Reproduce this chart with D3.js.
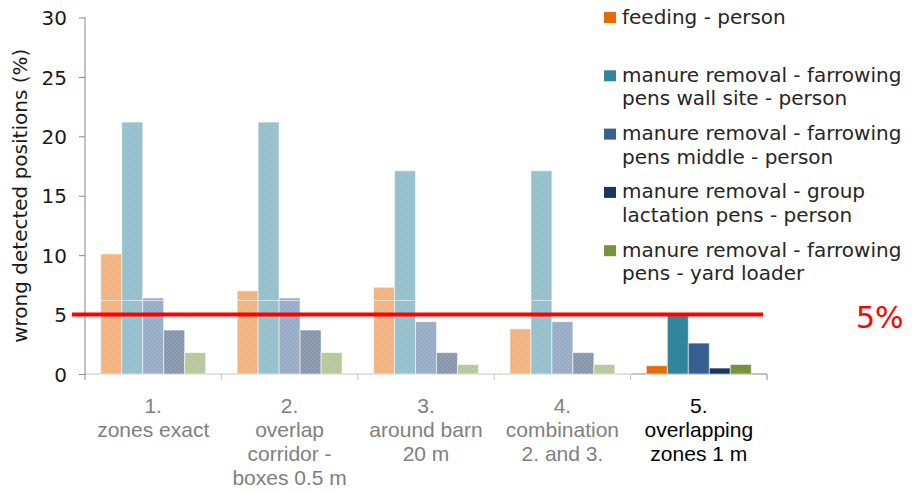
<!DOCTYPE html>
<html>
<head>
<meta charset="utf-8">
<script src="https://cdn.jsdelivr.net/npm/d3@7"></script>
<style>
  body { margin: 0; background: #fff; }
  svg { display: block; }
  .ytick text { font-family: "DejaVu Sans", Verdana, sans-serif; font-size: 20px; fill: #1a1a1a; }
  .xlabel { font-family: "Liberation Sans", Arial, sans-serif; font-size: 21px; }
  .legend text { font-family: "DejaVu Sans", Verdana, sans-serif; font-size: 20px; fill: #262626; }
</style>
</head>
<body>
<svg width="913" height="493"></svg>
<script>
// categories (label lines)
var categories = [
  ["1.", "zones exact"],
  ["2.", "overlap", "corridor -", "boxes 0.5 m"],
  ["3.", "around barn", "20 m"],
  ["4.", "combination", "2. and 3."],
  ["5.", "overlapping", "zones 1 m"]
];

// series names (legend lines)
var seriesNames = [
  ["feeding - person"],
  ["manure removal - farrowing", "pens wall site - person"],
  ["manure removal - farrowing", "pens middle - person"],
  ["manure removal - group", "lactation pens - person"],
  ["manure removal - farrowing", "pens - yard loader"]
];
var seriesColors = ["#e46c0a", "#31859c", "#376092", "#17375e", "#77933c"];

// values (% wrong detected positions), one array per series
var feeding   = [10.1, 7.0, 7.3, 3.8, 0.7];
var wallSite  = [21.2, 21.2, 17.1, 17.1, 4.9];
var middle    = [6.4, 6.4, 4.4, 4.4, 2.6];
var groupLact = [3.7, 3.7, 1.8, 1.8, 0.5];
var yardLoad  = [1.8, 1.8, 0.8, 0.8, 0.8];
var seriesValues = [feeding, wallSite, middle, groupLact, yardLoad];

var yTicks = [0, 5, 10, 15, 20, 25, 30];
var threshold = 5;
var thresholdLabel = "5%";
var highlighted = 4; // index of category shown at full colour

var svg = d3.select("svg");
var catIdx = d3.range(categories.length);

var x = d3.scaleBand()
  .domain(catIdx)
  .range([85, 767]);

var xs = d3.scaleBand()
  .domain(d3.range(seriesValues.length))
  .range([0, x.bandwidth()])
  .paddingOuter(0.75);

var y = d3.scaleLinear()
  .domain([0, 30])
  .range([374, 17.5]);

// checker pattern for the faded overlay
var defs = svg.append("defs");
var pat = defs.append("pattern")
  .attr("id", "fade")
  .attr("patternUnits", "userSpaceOnUse")
  .attr("width", 4).attr("height", 4);
pat.append("rect").attr("width", 4).attr("height", 4).attr("fill", "rgba(255,255,255,0.48)");
pat.append("rect").attr("width", 2).attr("height", 2).attr("fill", "rgba(255,255,255,0.08)");
pat.append("rect").attr("x", 2).attr("y", 2).attr("width", 2).attr("height", 2).attr("fill", "rgba(255,255,255,0.08)");

// axes
var gy = svg.append("g")
  .attr("class", "ytick")
  .attr("transform", "translate(85,0)")
  .call(d3.axisLeft(y).tickValues(yTicks).tickSize(6).tickPadding(12));
gy.select(".domain").attr("stroke", "#888").attr("d", "M0," + y(0) + "V" + y(30));
gy.selectAll(".tick line").attr("stroke", "#888");
gy.selectAll(".tick text").attr("dy", "0.36em");

var gx = svg.append("g");
gx.append("line")
  .attr("x1", x.range()[0]).attr("x2", x.range()[1])
  .attr("y1", y(0)).attr("y2", y(0))
  .attr("stroke", "#888");
gx.selectAll(".xt")
  .data(catIdx.concat([categories.length]))
  .enter().append("line")
  .attr("x1", function(d) { return d < categories.length ? x(d) : x.range()[1]; })
  .attr("x2", function(d) { return d < categories.length ? x(d) : x.range()[1]; })
  .attr("y1", y(0)).attr("y2", y(0) + 6)
  .attr("stroke", "#888");

// bars
var rows = [];
seriesValues.forEach(function(vals, s) {
  vals.forEach(function(v, c) { rows.push({s: s, c: c, v: v}); });
});

svg.append("g").selectAll("rect")
  .data(rows)
  .enter().append("rect")
  .attr("x", function(d) { return x(d.c) + xs(d.s); })
  .attr("y", function(d) { return y(d.v); })
  .attr("width", xs.bandwidth())
  .attr("height", function(d) { return y(0) - y(d.v); })
  .attr("fill", function(d) { return seriesColors[d.s]; })
  .attr("stroke", "rgba(255,255,255,0.55)")
  .attr("stroke-width", 1);

// faded overlay on the non-highlighted categories
svg.append("rect")
  .attr("x", x(0) + 1)
  .attr("y", 0)
  .attr("width", x(highlighted) + 1 - x(0))
  .attr("height", y(0) + 8)
  .attr("fill", "url(#fade)");
svg.append("line")
  .attr("x1", x(0) + 1).attr("x2", x(highlighted))
  .attr("y1", Math.round(y(6.2)) + 0.5).attr("y2", Math.round(y(6.2)) + 0.5)
  .attr("stroke", "rgba(255,255,255,0.55)");

// category labels
var xl = svg.append("g").selectAll("text")
  .data(catIdx)
  .enter().append("text")
  .attr("class", "xlabel")
  .attr("text-anchor", "middle")
  .attr("fill", function(d) { return d === highlighted ? "#000" : "#808080"; });
xl.each(function(d) {
  var t = d3.select(this);
  categories[d].forEach(function(line, i) {
    t.append("tspan")
      .attr("x", x(d) + x.bandwidth() / 2)
      .attr("y", y(0) + 39 + i * 24)
      .text(line);
  });
});

// y axis title
svg.append("text")
  .attr("transform", "translate(27," + (y(0) + y(30)) / 2 + ") rotate(-90)")
  .attr("text-anchor", "middle")
  .style("font-family", "'DejaVu Sans', Verdana, sans-serif")
  .style("font-size", "20px")
  .attr("fill", "#1a1a1a")
  .text("wrong detected positions (%)");

// threshold line
svg.append("line")
  .attr("x1", x.range()[0] - 13).attr("x2", x.range()[1] - 4)
  .attr("y1", y(threshold)).attr("y2", y(threshold))
  .attr("stroke", "#ff0000")
  .attr("stroke-width", 4);
svg.append("text")
  .attr("x", 856)
  .attr("y", y(threshold) + 13)
  .style("font-family", "'DejaVu Sans', Verdana, sans-serif")
  .style("font-size", "30px")
  .attr("fill", "#ff0000")
  .text(thresholdLabel);

// legend
var lg = svg.append("g").attr("class", "legend");
seriesNames.forEach(function(lines, i) {
  var base = 23.5 + i * 58.3;
  lg.append("rect")
    .attr("x", 604).attr("y", base - 11.5)
    .attr("width", 12).attr("height", 11)
    .attr("fill", seriesColors[i]);
  var t = lg.append("text");
  lines.forEach(function(line, j) {
    t.append("tspan").attr("x", 622).attr("y", base + j * 23.5).text(line);
  });
});
</script>
</body>
</html>
